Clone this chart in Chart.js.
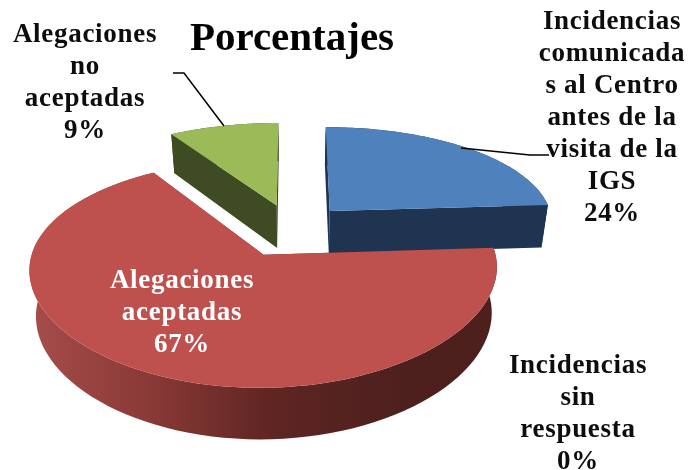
<!DOCTYPE html>
<html>
<head>
<meta charset="utf-8">
<title>Porcentajes</title>
<script src="https://cdn.jsdelivr.net/npm/chart.js@4"></script>
<style>
  html, body { margin: 0; padding: 0; background: #fff; }
  #wrap { width: 689px; height: 470px; }
</style>
</head>
<body>
<div id="wrap"><canvas id="pieChart" width="689" height="470"></canvas></div>
<script>
// ========================================
// Data
// ========================================
const categories = [
  'Incidencias comunicadas al Centro antes de la visita de la IGS',
  'Incidencias sin respuesta',
  'Alegaciones aceptadas',
  'Alegaciones no aceptadas'
];
const values = [24, 0, 67, 9];
const categoryLines = [
  ['Incidencias', 'comunicada', 's al Centro', 'antes de la', 'visita de la', 'IGS'],
  ['Incidencias', 'sin', 'respuesta'],
  ['Alegaciones', 'aceptadas'],
  ['Alegaciones', 'no', 'aceptadas']
];

// ========================================
// Styles
// ========================================
const topColors = ['#4F81BD', '#8064A2', '#BE504E', '#9BBB59'];
const wallColors = ['#1F3450', '#3A2D4D', '#6A2A28', '#3F4B22'];
const explodePercent = [25, 0, 27, 25];
const labelX = [612, 578, 182, 85];
const labelY = [29, 373, 288, 42];
const labelColors = ['#0D0D0D', '#0D0D0D', '#FFFFFF', '#0D0D0D'];
const leaderLines = [
  [[461, 148], [530, 155], [549, 155]],
  [[173, 73], [184, 73], [224, 126]]
];
const LABEL_FONT = 'bold 27px "Liberation Serif"';
const LABEL_SPACING = '0.7px';
const LINE_HEIGHT = 32;

// Perspective of the pie plane, in radii of the library's arc
const TILT_X = 0.12;
const TILT_Y = 0.16;
const SCALE_X = 1.366;
const SCALE_Y = 0.622;
const DEPTH = 0.266;
const WALL_SHRINK = 0.975;

// Map a point of the pie plane to the screen
function project(arc, u, v, down) {
  const R = arc.outerRadius;
  const wx = 1 / (1 - TILT_X * v);
  const wy = 1 / (1 - TILT_Y * v);
  let x = u * R * SCALE_X * wx;
  let y = v * R * SCALE_Y * wy;
  if (down) {
    x *= WALL_SHRINK;
    y += DEPTH * R * wx;
  }
  return [arc.x + x, arc.y + y];
}

// Outline of a slice in the pie plane: apex, then points along the rim
function sliceOutline(arc, explode) {
  const mid = (arc.startAngle + arc.endAngle) / 2;
  const ox = Math.cos(mid) * explode / 100;
  const oy = Math.sin(mid) * explode / 100;
  const pts = [[ox, oy]];
  const steps = 90;
  for (let i = 0; i <= steps; i++) {
    const a = arc.startAngle + (arc.endAngle - arc.startAngle) * i / steps;
    pts.push([ox + Math.cos(a), oy + Math.sin(a)]);
  }
  return pts;
}

function fillPoly(ctx, poly, color) {
  ctx.beginPath();
  poly.forEach((p, i) => (i ? ctx.lineTo(p[0], p[1]) : ctx.moveTo(p[0], p[1])));
  ctx.closePath();
  ctx.fillStyle = color;
  ctx.fill();
}

// Red wall gets darker from left to right
function redWallGradient(ctx) {
  const g = ctx.createLinearGradient(30, 0, 400, 0);
  g.addColorStop(0, '#A64D4A');
  g.addColorStop(0.3, '#8C3B38');
  g.addColorStop(0.65, '#5F2523');
  g.addColorStop(1, '#4D201E');
  return g;
}

const pie3d = {
  id: 'pie3d',
  // Replaces the flat arcs with extruded ones
  beforeDatasetDraw(chart, args) {
    const ctx = chart.ctx;
    const arcs = chart.getDatasetMeta(args.index).data;
    const order = [3, 0, 1, 2]; // back to front

    order.forEach(i => {
      const arc = arcs[i];
      if (values[i] === 0) return;
      const outline = sliceOutline(arc, explodePercent[i]);
      const color = i === 2 ? redWallGradient(ctx) : wallColors[i];
      const apex = outline[0];
      const rim = outline.slice(1);
      const first = rim[0];
      const last = rim[rim.length - 1];

      // Walls: the two cuts, then the rim as a single band
      [first, last].forEach(p => {
        fillPoly(ctx, [
          project(arc, apex[0], apex[1], false),
          project(arc, p[0], p[1], false),
          project(arc, p[0], p[1], true),
          project(arc, apex[0], apex[1], true)
        ], color);
      });
      fillPoly(ctx, rim.map(p => project(arc, p[0], p[1], false))
        .concat(rim.slice().reverse().map(p => project(arc, p[0], p[1], true))), color);

      // Top face
      fillPoly(ctx, outline.map(p => project(arc, p[0], p[1], false)), topColors[i]);
    });
    return false;
  },
  afterDatasetsDraw(chart) {
    const ctx = chart.ctx;

    // Leader lines
    ctx.strokeStyle = '#000';
    ctx.lineWidth = 1.5;
    leaderLines.forEach(line => {
      ctx.beginPath();
      line.forEach((p, i) => (i ? ctx.lineTo(p[0], p[1]) : ctx.moveTo(p[0], p[1])));
      ctx.stroke();
    });

    // Data labels
    ctx.font = LABEL_FONT;
    ctx.letterSpacing = LABEL_SPACING;
    ctx.textAlign = 'center';
    ctx.textBaseline = 'alphabetic';
    categoryLines.forEach((lines, i) => {
      ctx.fillStyle = labelColors[i];
      lines.concat(values[i] + '%').forEach((text, k) => {
        ctx.fillText(text, labelX[i], labelY[i] + k * LINE_HEIGHT);
      });
    });
    ctx.letterSpacing = '0px';
  }
};

// Initialize chart
new Chart(document.getElementById('pieChart'), {
  type: 'pie',
  data: {
    labels: categories,
    datasets: [{
      data: values,
      backgroundColor: topColors,
      borderWidth: 0
    }]
  },
  options: {
    responsive: false,
    animation: false,
    layout: { padding: { right: 105, bottom: 76 } },
    plugins: {
      legend: { display: false },
      tooltip: { enabled: false },
      title: {
        display: true,
        text: 'Porcentajes',
        fullSize: false,
        color: '#000',
        font: { family: '"Liberation Serif"', size: 41, weight: 'bold' },
        padding: { top: 15, bottom: 0 }
      }
    }
  },
  plugins: [pie3d]
});
</script>
</body>
</html>
